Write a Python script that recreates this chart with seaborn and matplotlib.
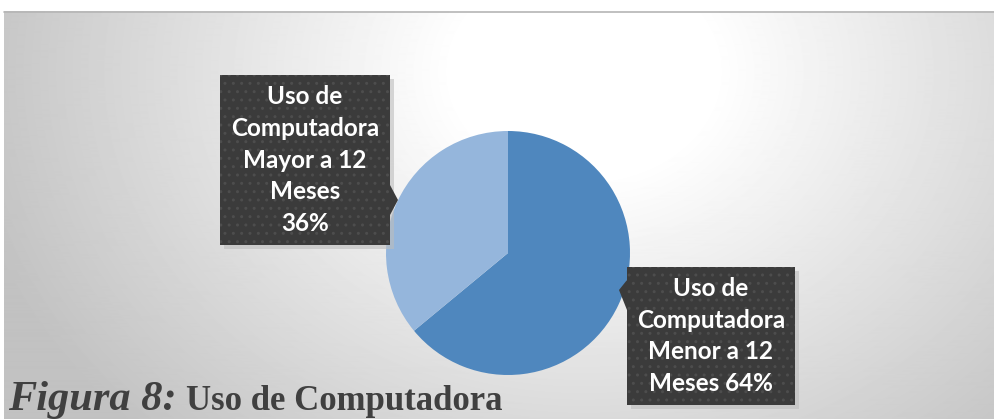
import numpy as np
import matplotlib
matplotlib.use("Agg")
import matplotlib.pyplot as plt
import seaborn as sns
from matplotlib.patches import Rectangle, Polygon

sns.set_theme(style="white")

categories = ["Uso de Computadora Menor a 12 Meses", "Uso de Computadora Mayor a 12 Meses"]
values = [64, 36]
label_texts = ["Uso de\nComputadora\nMenor a 12\nMeses 64%",
               "Uso de\nComputadora\nMayor a 12\nMeses\n36%"]
colors = ["#4F87BE", "#95B6DC"]

W, H = 995, 419
fig = plt.figure(figsize=(W / 100, H / 100), dpi=100)
ax = fig.add_axes([0, 0, 1, 1])

# radial gray background below the top rule
yy, xx = np.mgrid[0:H - 12, 0:W - 4]
d = np.sqrt(((xx - 580) / 520.0) ** 2 + ((yy - 60) / 420.0) ** 2)
shade = np.clip(1.0 - 0.25 * np.clip(d - 0.25, 0, None), 0.76, 1.0)
ax.imshow(shade, cmap="gray", vmin=0, vmax=1, extent=(4, W, 0, H - 12),
          origin="upper", zorder=0, interpolation="bilinear")
ax.plot([4, W], [H - 12, H - 12], color="#b5b5b5", lw=1.2, zorder=1)

# pie
wedges, _ = ax.pie(values, colors=colors, startangle=90, counterclock=False,
                   center=(508, H - 253), radius=122,
                   wedgeprops=dict(linewidth=0), frame=True)
ax.set_xlim(0, W)
ax.set_ylim(0, H)
ax.set_aspect("equal")
ax.axis("off")

# label boxes
boxes = [(627, H - 405, 168, 138), (220, H - 245, 170, 170)]
pointers = [[(627, H - 280), (627, H - 310), (619, H - 290)],
            [(390, H - 185), (390, H - 215), (398, H - 200)]]
for (bx, by, bw, bh), txt, ptr in zip(boxes, label_texts, pointers):
    ax.add_patch(Rectangle((bx + 4, by - 4), bw, bh, facecolor="#bdbdbd",
                           edgecolor="none", alpha=0.6, zorder=3))
    ax.add_patch(Rectangle((bx, by), bw, bh, facecolor="#3b3b3b",
                           edgecolor="#4d4d4d", hatch="..", lw=0, zorder=4))
    ax.add_patch(Polygon(ptr, closed=True, facecolor="#3b3b3b",
                         edgecolor="none", zorder=4))
    ax.text(bx + bw / 2, by + bh / 2, txt, ha="center", va="center",
            color="white", fontsize=17.5, fontweight="bold", family="Lato",
            linespacing=1.45, zorder=5)

# caption
ax.text(8, H - 410, "Figura 8:", fontsize=30.5, fontweight="bold",
        fontstyle="italic", family="Liberation Serif", color="#404040",
        va="baseline", zorder=6)
ax.text(186, H - 410, "Uso de Computadora", fontsize=25, fontweight="bold",
        family="Liberation Serif", color="#404040", va="baseline", zorder=6)

fig.savefig("out.png", dpi=100)
